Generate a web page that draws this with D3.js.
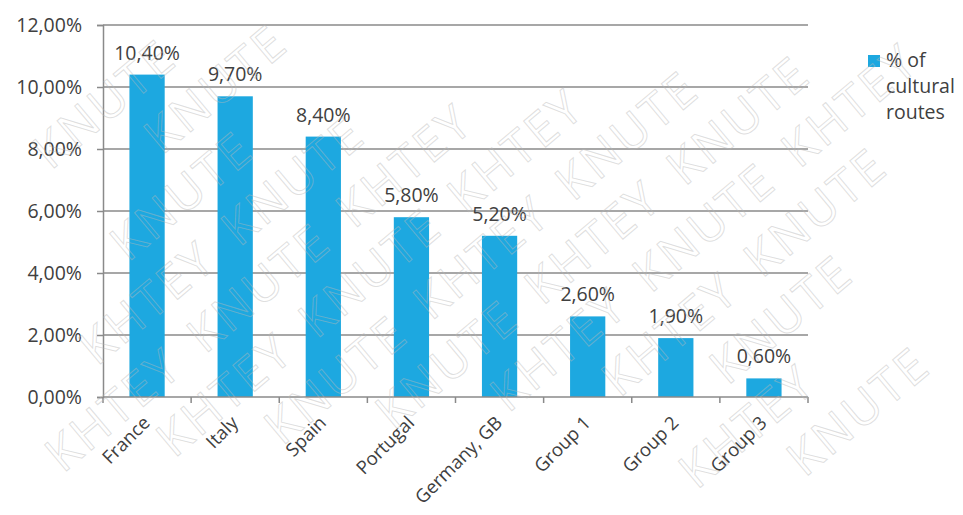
<!DOCTYPE html>
<html><head><meta charset="utf-8">
<script src="https://cdn.jsdelivr.net/npm/d3@7"></script>
<style>body{margin:0;background:#fff}svg{display:block}text{font-family:"Open Sans",sans-serif}</style>
</head><body><svg id="c" width="963" height="515"></svg>
<script>
const categories = ["France","Italy","Spain","Portugal","Germany, GB","Group 1","Group 2","Group 3"];
const values = [10.4, 9.7, 8.4, 5.8, 5.2, 2.6, 1.9, 0.6];
const yTicks = [0, 2, 4, 6, 8, 10, 12];
const seriesName = ["% of", "cultural", "routes"];
const watermarkWords = ["KHTEY", "KNUTE"];

const W = 963, H = 515;
const svg = d3.select("#c");
const m = {l:103, r:808, t:25, b:397};
const x = d3.scaleBand().domain(categories).range([m.l, m.r]).paddingInner(0.6).paddingOuter(0.3);
const y = d3.scaleLinear().domain([0, 12]).range([m.b, m.t]);
const fmt = v => v.toFixed(2).replace(".", ",") + "%";
const grey = "#8a8a8a", txt = "#404040", blue = "#1DA8E0";

// gridlines
svg.append("g").selectAll("line").data(yTicks.filter(d=>d>0)).join("line")
  .attr("x1", m.l).attr("x2", m.r).attr("y1", d=>y(d)).attr("y2", d=>y(d))
  .attr("stroke", grey).attr("stroke-width", 1.5);

// y axis
const ya = svg.append("g").attr("transform", `translate(${m.l},0)`)
  .call(d3.axisLeft(y).tickValues(yTicks).tickFormat(fmt).tickSize(6).tickPadding(15));
ya.select(".domain").attr("stroke", grey).attr("stroke-width", 1.5);
ya.selectAll(".tick line").attr("stroke", grey).attr("stroke-width", 1.5);
ya.selectAll(".tick text").attr("fill", txt).style("font-size", "19.5px").attr("dy", "0.35em");

// bars
svg.append("g").selectAll("rect").data(values).join("rect")
  .attr("x", (d,i)=>x(categories[i])).attr("width", x.bandwidth())
  .attr("y", d=>y(d)).attr("height", d=>y(0)-y(d)).attr("fill", blue);

// x axis
const step = x.step();
const bounds = d3.range(categories.length + 1).map(i => m.l + i * step);
svg.append("line").attr("x1", m.l).attr("x2", m.r).attr("y1", y(0)).attr("y2", y(0))
  .attr("stroke", grey).attr("stroke-width", 1.5);
svg.append("g").selectAll("line").data(bounds).join("line")
  .attr("x1", d=>d).attr("x2", d=>d).attr("y1", y(0)).attr("y2", y(0)+6)
  .attr("stroke", grey).attr("stroke-width", 1.5);
svg.append("g").selectAll("text").data(categories).join("text")
  .attr("transform", d=>`translate(${x(d)+x.bandwidth()/2+4},${y(0)+27}) rotate(-45)`)
  .attr("text-anchor", "end").attr("fill", txt).style("font-size", "18.5px").text(d=>d);

// value labels
svg.append("g").selectAll("text").data(values).join("text")
  .attr("x", (d,i)=>x(categories[i])+x.bandwidth()/2).attr("y", d=>y(d)-15)
  .attr("text-anchor", "middle").attr("fill", txt).style("font-size", "19.5px").text(fmt);

// legend
svg.append("rect").attr("x", 868).attr("y", 55).attr("width", 12).attr("height", 12).attr("fill", blue);
svg.append("g").selectAll("text").data(seriesName).join("text")
  .attr("x", 886).attr("y", (d,i)=>67 + i*26).attr("fill", txt).style("font-size", "19.5px").text(d=>d);

// watermark: words along diagonal rows, only those fully inside the canvas
const deg = -40, ang = deg * Math.PI / 180, ca = Math.cos(ang), sa = Math.sin(ang);
const ww = 178, wh = 50, sx = 190, sy = 60;
const words = [];
for (let r = -14; r <= 14; r++) {
  for (let c = -8; c <= 10; c++) {
    const u = c * sx + (r % 2 ? sx / 2 : 0), v = r * sy;
    const cx = W / 2 + u * ca - v * sa, cy = H / 2 + u * sa + v * ca;
    const dx = Math.abs(ca) * ww / 2 + Math.abs(sa) * wh / 2;
    const dy = Math.abs(sa) * ww / 2 + Math.abs(ca) * wh / 2;
    if (cx - dx >= 2 && cx + dx <= W - 2 && cy - dy >= 2 && cy + dy <= H - 2)
      words.push({cx, cy, t: watermarkWords[((c % 2) + 2) % 2]});
  }
}
svg.append("g").attr("pointer-events", "none").selectAll("text").data(words).join("text")
  .attr("transform", d => `translate(${d.cx},${d.cy}) rotate(${deg})`)
  .attr("text-anchor", "middle").attr("dy", "0.35em")
  .attr("fill", "none").attr("stroke", "#b8b8b8").attr("stroke-opacity", 0.45).attr("stroke-width", 1)
  .style("font-size", "48px").style("letter-spacing", "3px")
  .text(d => d.t);
</script></body></html>
